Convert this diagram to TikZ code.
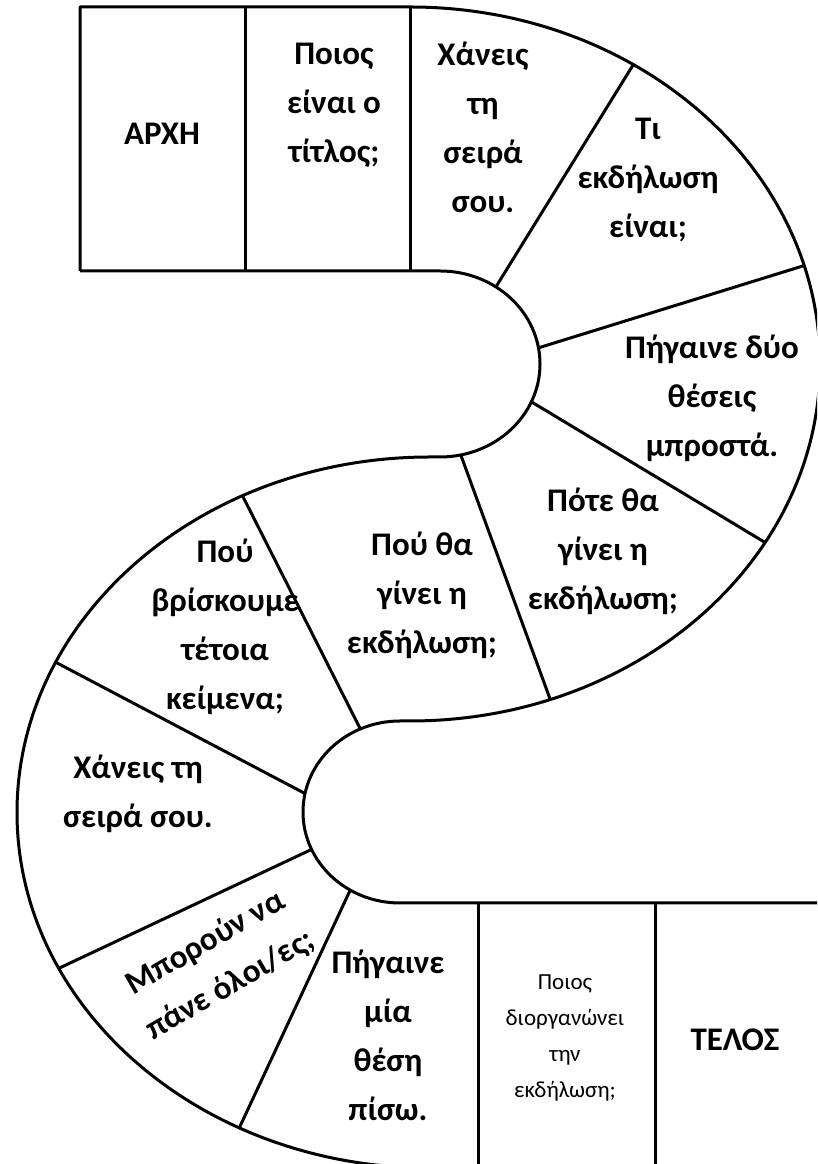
\documentclass[tikz,border=0pt]{standalone}
\usepackage{fontspec}
\setmainfont{Carlito}
\tikzset{
  board/.style={line width=3pt, line join=round},
  cell/.style={font={\bfseries\fontsize{33}{49}\selectfont}, align=center, inner sep=0pt},
  smallcell/.style={font={\fontsize{23}{36}\selectfont}, align=center, inner sep=0pt}
}
\begin{document}
\begin{tikzpicture}[x=1pt, y=1pt]
    \useasboundingbox (0,0) rectangle (817,1164);
    \clip (0,0) rectangle (817,1164);
    \fill[white] (0,0) rectangle (817,1164);

    % Centres of the two bends
    \coordinate (upout) at (410,800);
    \coordinate (upin) at (440,800);
    \coordinate (lowout) at (430,351.5);
    \coordinate (lowin) at (400,351.5);

    % Outline of the path
    \draw[board] (80,893) -- (80,1157) -- (410,1157)
        arc[start angle=90, end angle=-90, x radius=410, y radius=357]
        -- (400,443)
        arc[start angle=90, end angle=270, x radius=97, y radius=91]
        -- (840,261);
    \draw[board] (80,893) -- (440,893)
        arc[start angle=90, end angle=-90, x radius=100, y radius=93]
        -- (430,707)
        arc[start angle=90, end angle=270, x radius=413, y radius=355.5]
        -- (840,-4);

    % Straight cells
    \draw[board] (245,893) -- (245,1157);
    \draw[board] (410,893) -- (410,1157);
    \draw[board] (478,261) -- (478,-4);
    \draw[board] (655,261) -- (655,-4);

    % Cells of the bends
    \foreach \a/\b in {56/57, 10/16, -24/-30, -78/-70}
        \draw[board] ([shift={(upin)}]\a:100 and 93) -- ([shift={(upout)}]\b:410 and 357);
    \foreach \a/\b in {114/117, 168/155, 204/206, 239/242.5}
        \draw[board] ([shift={(lowin)}]\a:97 and 91) -- ([shift={(lowout)}]\b:413 and 355.5);

    % Texts
    \node[cell] (start) at (162,1030) {ΑΡΧΗ};
    \node[cell] (title) at (334,1059) {Ποιος\\είναι ο\\τίτλος;};
    \node[cell] (miss1) at (483,1037) {Χάνεις\\τη\\σειρά\\σου.};
    \node[cell] (kind) at (648,984) {Τι\\εκδήλωση\\είναι;};
    \node[cell] (ahead) at (712,766) {Πήγαινε δύο\\θέσεις\\μπροστά.};
    \node[cell] (when) at (603,613) {Πότε θα\\γίνει η\\εκδήλωση;};
    \node[cell] (where) at (422,569) {Πού θα\\γίνει η\\εκδήλωση;};
    \node[cell] (find) at (225,537) {Πού\\βρίσκουμε\\τέτοια\\κείμενα;};
    \node[cell] (miss2) at (138,370) {Χάνεις τη\\σειρά σου.};
    \node[cell, rotate=30] (everyone) at (218,200) {Μπορούν να\\πάνε όλοι/ες;};
    \node[cell] (back) at (388,129) {Πήγαινε\\μία\\θέση\\πίσω.};
    \node[smallcell] (organiser) at (565,126) {Ποιος\\διοργανώνει\\την\\εκδήλωση;};
    \node[cell] (finish) at (735,124) {ΤΕΛΟΣ};
\end{tikzpicture}
\end{document}
